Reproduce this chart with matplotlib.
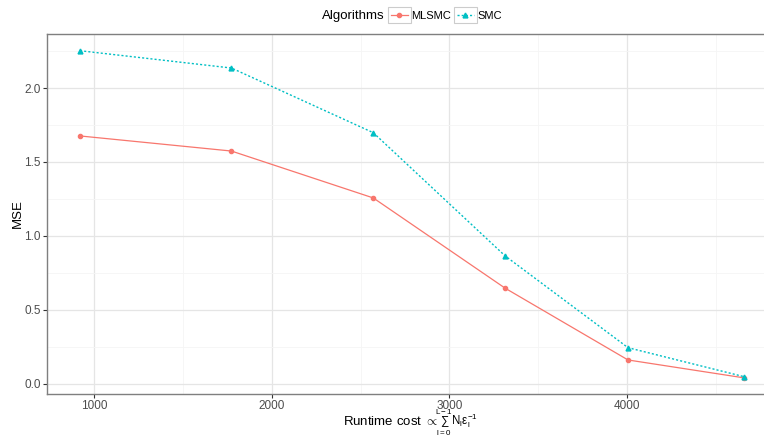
import matplotlib
matplotlib.use("Agg")
import matplotlib.pyplot as plt
from matplotlib.ticker import MultipleLocator
from matplotlib.patches import Rectangle

plt.rcParams['font.family'] = ['Liberation Sans', 'DejaVu Sans']
plt.rcParams['mathtext.fontset'] = 'custom'
plt.rcParams['mathtext.rm'] = 'Liberation Sans'
plt.rcParams['mathtext.it'] = 'Liberation Sans'
plt.rcParams['mathtext.sf'] = 'Liberation Sans'

# runtime cost (x) and MSE for both algorithms
runtime = [919, 1772, 2571, 3314, 4006, 4660]
mse_mlsmc = [1.676, 1.574, 1.257, 0.647, 0.162, 0.041]
mse_smc = [2.252, 2.135, 1.698, 0.865, 0.245, 0.049]
labels = ['MLSMC', 'SMC']

RED = '#F8766D'
CYAN = '#00BFC4'

fig = plt.figure(figsize=(7.64, 4.37), dpi=100)
ax = fig.add_axes([47 / 764, 43 / 437, 717 / 764, 360 / 437])

ax.plot(runtime, mse_mlsmc, color=RED, lw=0.9, ls='-', marker='o', ms=3,
        label=labels[0])
ax.plot(runtime, mse_smc, color=CYAN, lw=1.0, ls=(0, (1.5, 1.5)), marker='^',
        ms=3.5, label=labels[1])

ax.set_xlim(733, 4772)
ax.set_ylim(-0.068, 2.365)
ax.xaxis.set_major_locator(MultipleLocator(1000))
ax.xaxis.set_minor_locator(MultipleLocator(500))
ax.yaxis.set_major_locator(MultipleLocator(0.5))
ax.yaxis.set_minor_locator(MultipleLocator(0.25))
ax.yaxis.set_major_formatter(plt.FuncFormatter(lambda v, p: f'{v:.1f}'))

ax.grid(which='major', color='#E5E5E5', lw=0.9)
ax.grid(which='minor', color='#F5F5F5', lw=0.6)
ax.set_axisbelow(True)

for s in ['left', 'bottom', 'top']:
    ax.spines[s].set_color('#7F7F7F')
    ax.spines[s].set_linewidth(1.0)
ax.spines['right'].set_visible(False)

ax.tick_params(which='major', length=3, width=0.8, color='#333333',
               labelsize=8.5, labelcolor='#4D4D4D', pad=1.5)
ax.tick_params(which='minor', length=0)

ax.set_ylabel('MSE', fontsize=9.5, labelpad=0)

# x axis title in two pieces, placed by hand so the sum limits fit
base_y = 1 - 425 / 437
fig.text(343 / 764, base_y, r'Runtime cost $\propto$',
         ha='left', va='baseline', fontsize=9.5)
fig.text(435 / 764, base_y,
         r'$\sum_{\mathrm{l=0}}^{\mathrm{L-1}}\mathrm{N_l\epsilon_l^{-1}}$',
         ha='left', va='baseline', fontsize=8.3)

# legend on top, title on the left
fig.text(385 / 764, 1 - 16 / 437, 'Algorithms', ha='right', va='center',
         fontsize=9.5)
handles, _ = ax.get_legend_handles_labels()
leg = fig.legend(handles, labels, loc='center left',
                 bbox_to_anchor=(391 / 764, 1 - 16 / 437), ncol=2,
                 frameon=False, fontsize=8, handlelength=1.5,
                 handletextpad=0.35, columnspacing=0.5, borderaxespad=0,
                 borderpad=0)

fig.canvas.draw()
renderer = fig.canvas.get_renderer()
inv = fig.transFigure.inverted()
for h in leg.legend_handles:
    bb = h.get_window_extent(renderer)
    (x0, y0), (x1, y1) = inv.transform([[bb.x0, bb.y0], [bb.x1, bb.y1]])
    cy = (y0 + y1) / 2
    hh = 16 / 437
    fig.patches.append(Rectangle((x0 - 1 / 764, cy - hh / 2),
                                 (x1 - x0) + 2 / 764, hh,
                                 transform=fig.transFigure, fill=False,
                                 edgecolor='#CCCCCC', lw=0.8))

fig.savefig('out.png', dpi=100)
